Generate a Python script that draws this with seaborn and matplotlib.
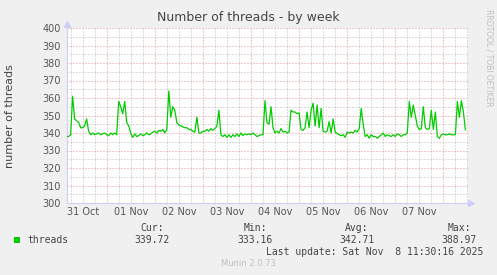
import matplotlib
matplotlib.use("Agg")
import matplotlib.pyplot as plt
import seaborn as sns
import pandas as pd

# ---- data (hours since 31 Oct 00:00, hourly samples) ----
start_hour = 4
values = [
    338, 338, 339, 361, 348, 347, 346, 343, 343, 344,
    348, 341, 339, 340, 339, 339.5, 340, 339, 339.5, 340,
    339, 338.5, 340, 339, 340, 339, 358, 355, 351, 358,
    346, 344, 340, 337.5, 339.5, 338, 338.5, 339.5, 338.5, 339,
    340, 339, 339.5, 340.5, 341, 340, 341.5, 341, 342, 340,
    342, 364, 349, 355, 353, 346, 344.5, 344, 343.5, 343,
    343, 342, 342, 341, 340.5, 349, 340, 340, 341, 341,
    342, 341, 342.5, 341.5, 342.5, 344, 353, 339, 338, 339,
    337.5, 339, 337.5, 339, 338, 339.5, 338, 340, 338.5, 339.5,
    339, 339.5, 339, 340, 339, 338, 338.5, 339, 339, 358.5,
    346, 345, 355, 343, 340, 341, 340, 342.5, 340.5, 341,
    340, 340.5, 353, 352, 352, 351, 351.5, 342, 341.5, 343,
    352, 343, 353, 357, 344, 356, 343, 354, 341, 340.5,
    341, 346.5, 340, 348, 340.5, 339.8, 339, 338.5, 339, 337.5,
    340.5, 340, 340.5, 340, 341.5, 340.5, 342.5, 354, 345, 338,
    339, 337, 339, 338, 338, 337, 338, 339, 340, 338,
    339, 338.5, 338, 339, 338, 339.5, 339, 338, 339, 339,
    340, 358, 349, 356, 350, 344, 342, 342.5, 355, 343,
    342, 342.5, 353, 342, 352, 338, 337, 339, 339.5, 339,
    339, 339.5, 339, 339, 339, 358, 349, 358.5, 352, 341.7,
]
hours = [start_hour + i for i in range(len(values))]
day_labels = ["31 Oct", "01 Nov", "02 Nov", "03 Nov", "04 Nov", "05 Nov", "06 Nov", "07 Nov"]
legend_name = "threads"
stat_names = ["Cur:", "Min:", "Avg:", "Max:"]
stat_values = ["339.72", "333.16", "342.71", "388.97"]

df = pd.DataFrame({"hour": hours, "threads": values})

W, H = 497, 275
sns.set_style("white")
plt.rcParams["font.family"] = ["DejaVu Sans"]

fig = plt.figure(figsize=(W / 100, H / 100), dpi=100, facecolor="#F0F0F0")
L, R, T, B = 67, 468, 28, 203
ax = fig.add_axes([L / W, 1 - B / H, (R - L) / W, (B - T) / H])
ax.set_facecolor("white")

xmin, xmax = 4.2, 204.3
ymin, ymax = 300, 400
ax.set_xlim(xmin, xmax)
ax.set_ylim(ymin, ymax)

# grids
minor_x = [h for h in range(6, 205, 6) if h % 24 != 0]
major_x = [24 * (i + 1) for i in range(len(day_labels))]
minor_y = [y for y in range(305, 400, 10)]
major_y = [y for y in range(300, 401, 10)]
dot = (0, (1, 2))
gray = "#b8b8b8"
pink = "#e89090"
kw = dict(linewidth=0.72, linestyles=[dot])
ax.vlines(minor_x, ymin, ymax, colors=gray, zorder=1, **kw)
ax.hlines(minor_y, xmin, xmax, colors=gray, zorder=1, **kw)
ax.vlines(major_x, ymin, ymax, colors=pink, zorder=2, **kw)
ax.hlines(major_y[1:], xmin, xmax, colors=pink, zorder=2, **kw)

sns.lineplot(data=df, x="hour", y="threads", color="#00CC00", linewidth=0.9, ax=ax, zorder=3)

# ticks
ax.set_xticks([24 * i + 12 for i in range(len(day_labels))])
ax.set_xticklabels(day_labels)
ax.set_yticks(major_y)
ax.set_yticklabels([str(v) for v in major_y])
ax.tick_params(axis="both", which="major", labelsize=7, labelcolor="#555555",
               length=0, pad=3)
ax.tick_params(axis="y", which="major", length=2.5, color=pink, direction="out", pad=2)
ax.set_xlabel("")
ax.set_ylabel("")

for s in ["top", "right"]:
    ax.spines[s].set_visible(False)
for s in ["left", "bottom"]:
    ax.spines[s].set_color("#ccd0f8")
    ax.spines[s].set_linewidth(0.8)

# axis arrows
ax.plot([0], [1.025], marker="^", markersize=4, color="#ccd0f8", transform=ax.transAxes, clip_on=False)
ax.plot([1.008], [0], marker=">", markersize=4, color="#ccd0f8", transform=ax.transAxes, clip_on=False)

def ftext(x, y, s, **kw):
    fig.text(x / W, 1 - y / H, s, **kw)

ftext(248, 18, "Number of threads - by week", ha="center", va="center", fontsize=9, color="#444444")
ftext(10, 116, "number of threads", rotation=90, ha="center", va="center", fontsize=8, color="#444444")
ftext(489, 58, "RRDTOOL / TOBI OETIKER", rotation=270, ha="center", va="center", fontsize=5.5, color="#c0c0c0")

mono = "DejaVu Sans Mono"
fig.patches.append(plt.Rectangle((14 / W, 1 - 243 / H), 6 / W, 6 / H, transform=fig.transFigure,
                                 facecolor="#00CC00", edgecolor="none"))
txt = "#444444"
ftext(27, 240, legend_name, ha="left", va="center", fontsize=7, family=mono, color=txt)
centers = [152, 255, 357, 459]
for cx, nm, val in zip(centers, stat_names, stat_values):
    ftext(cx, 228, nm, ha="center", va="center", fontsize=7, family=mono, color=txt)
    ftext(cx, 240, val, ha="center", va="center", fontsize=7, family=mono, color=txt)
ftext(483, 252, "Last update: Sat Nov  8 11:30:16 2025", ha="right", va="center", fontsize=7,
      family=mono, color=txt)
ftext(248, 264, "Munin 2.0.73", ha="center", va="center", fontsize=6, color="#c0c0c0")

fig.savefig("out.png", dpi=100, facecolor=fig.get_facecolor())
